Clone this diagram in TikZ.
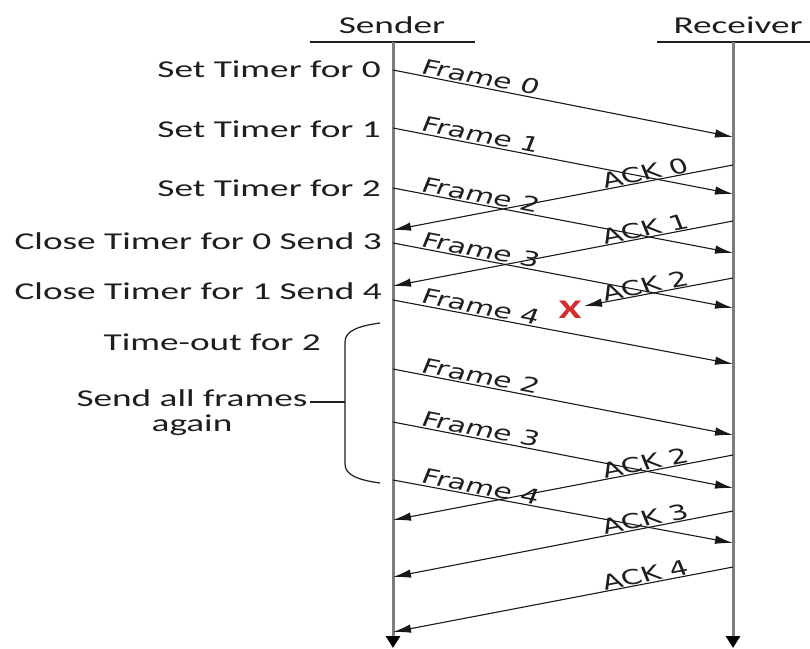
\documentclass[tikz,border=0pt]{standalone}
\usepackage{fontspec}
\setmainfont{Carlito}[FakeStretch=1.54]
\newfontfamily\lblfont{DejaVu Sans}
\usetikzlibrary{arrows.meta}
\definecolor{lifegray}{RGB}{125,125,125}
\definecolor{txtgray}{RGB}{30,30,30}
\definecolor{xred}{RGB}{210,45,45}
\begin{document}
\begin{tikzpicture}[x=1pt,y=-1pt,
  life/.style={draw=lifegray, line width=3pt, -{Triangle[length=12pt,width=14pt,color=black]}},
  head/.style={draw=txtgray, line width=1.3pt},
  msg/.style={draw=black!90, line width=1.1pt, -{Latex[length=18pt,width=8.5pt]}},
  frametxt/.style={font=\lblfont\fontsize{20.5}{24}\selectfont, text=txtgray, inner sep=0pt, transform shape, xscale=1.45, rotate=-15.5},
  acktxt/.style={font=\lblfont\fontsize{20.5}{24}\selectfont, text=txtgray, inner sep=0pt, transform shape, xscale=1.45, rotate=15.5},
  sidetxt/.style={font=\fontsize{24.2}{25}\selectfont, text=txtgray, inner sep=0pt, anchor=base east},
  headtxt/.style={font=\fontsize{24.2}{25}\selectfont, text=txtgray, inner sep=0pt, anchor=base},
  brace/.style={draw=txtgray, line width=1.2pt},
]
\useasboundingbox[fill=white] (0,0) rectangle (810,648);

% headers
\node[headtxt] (sender) at (392,33) {Sender};
\node[headtxt] (receiver) at (738,33) {Receiver};
\coordinate (shl) at (310,42); \coordinate (shr) at (475,42);
\coordinate (rhl) at (657,42); \coordinate (rhr) at (810,42);
\draw[head] (shl) -- (shr);
\draw[head] (rhl) -- (rhr);

% lifelines
\coordinate (stop) at (393,42); \coordinate (sbot) at (393,648);
\coordinate (rtop) at (733,42); \coordinate (rbot) at (733,648);
\draw[life] (stop) -- (sbot);
\draw[life] (rtop) -- (rbot);

% sender-side labels
\node[sidetxt] (t0) at (381,77) {Set Timer for 0};
\node[sidetxt] (t1) at (381,137) {Set Timer for 1};
\node[sidetxt] (t2) at (381,196) {Set Timer for 2};
\node[sidetxt] (t3) at (382,249) {Close Timer for 0 Send 3};
\node[sidetxt] (t4) at (382,299) {Close Timer for 1 Send 4};
\node[sidetxt] (tout) at (321,350) {Time-out for 2};
\node[font=\fontsize{24.2}{25}\selectfont, text=txtgray, inner sep=0pt, align=center, anchor=north] (again) at (192,389) {Send all frames\\again};

% brace
\coordinate (bt) at (380,323); \coordinate (bb) at (380,483);
\coordinate (bm) at (345,402); \coordinate (bl) at (310,402);
\draw[brace] (bt) .. controls (358,326) and (345,331) .. (345,342) -- (345,464) .. controls (345,475) and (358,480) .. (bb);
\draw[brace] (bl) -- (bm);

% frame endpoints
\coordinate (f0s) at (393,70);  \coordinate (f0e) at (733,137);
\coordinate (f1s) at (393,128); \coordinate (f1e) at (733,194);
\coordinate (f2s) at (393,188); \coordinate (f2e) at (733,253);
\coordinate (f3s) at (393,243); \coordinate (f3e) at (733,308);
\coordinate (f4s) at (393,300); \coordinate (f4e) at (733,364);
\coordinate (g2s) at (393,369); \coordinate (g2e) at (733,435);
\coordinate (g3s) at (393,422); \coordinate (g3e) at (733,488);
\coordinate (g4s) at (393,480); \coordinate (g4e) at (733,543);

\draw[msg] (f0s) -- (f0e);
\draw[msg] (f1s) -- (f1e);
\draw[msg] (f2s) -- (f2e);
\draw[msg] (f3s) -- (f3e);
\draw[msg] (f4s) -- (f4e);
\draw[msg] (g2s) -- (g2e);
\draw[msg] (g3s) -- (g3e);
\draw[msg] (g4s) -- (g4e);

\node[frametxt] (lf0) at (481,77) {Frame 0};
\node[frametxt] (lf1) at (481,135) {Frame 1};
\node[frametxt] (lf2) at (481,195) {Frame 2};
\node[frametxt] (lf3) at (481,250) {Frame 3};
\node[frametxt] (lf4) at (481,307) {Frame 4};
\node[frametxt] (lg2) at (481,376) {Frame 2};
\node[frametxt] (lg3) at (481,429) {Frame 3};
\node[frametxt] (lg4) at (481,487) {Frame 4};

% ack endpoints
\coordinate (a0s) at (733,165); \coordinate (a0e) at (393,230);
\coordinate (a1s) at (733,221); \coordinate (a1e) at (393,286);
\coordinate (a2s) at (733,278); \coordinate (a2e) at (584,306);
\coordinate (b2s) at (733,455); \coordinate (b2e) at (393,520);
\coordinate (b3s) at (733,511); \coordinate (b3e) at (393,577);
\coordinate (b4s) at (733,567); \coordinate (b4e) at (393,632);

\draw[msg] (a0s) -- (a0e);
\draw[msg] (a1s) -- (a1e);
\draw[msg] (a2s) -- (a2e);
\draw[msg] (b2s) -- (b2e);
\draw[msg] (b3s) -- (b3e);
\draw[msg] (b4s) -- (b4e);

\node[acktxt] (la0) at (645,173) {ACK 0};
\node[acktxt] (la1) at (645,229) {ACK 1};
\node[acktxt] (la2) at (645,286) {ACK 2};
\node[acktxt] (lb2) at (645,463) {ACK 2};
\node[acktxt] (lb3) at (645,519) {ACK 3};
\node[acktxt] (lb4) at (645,575) {ACK 4};

% lost marker
\node[font=\fontsize{27}{28}\selectfont\bfseries, text=xred, inner sep=0pt] (lost) at (570,310) {X};
\end{tikzpicture}
\end{document}
